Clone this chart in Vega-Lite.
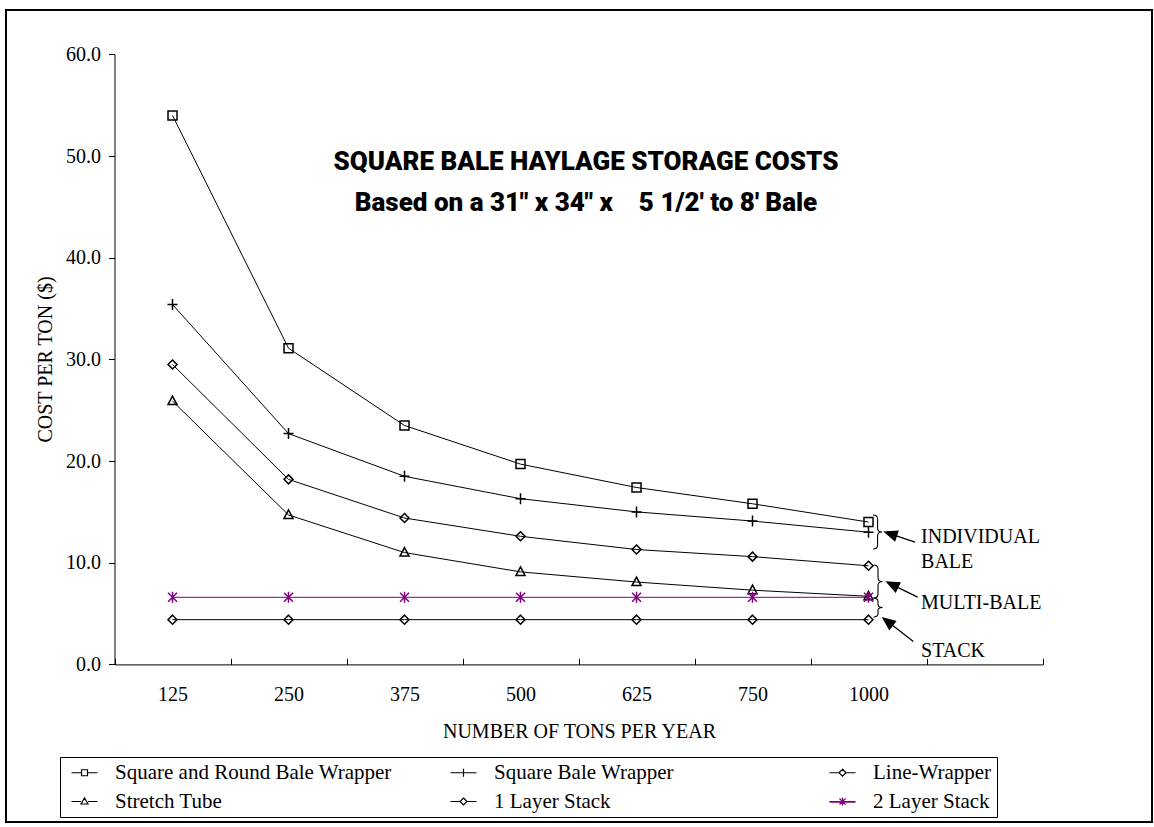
{
  "$schema": "https://vega.github.io/schema/vega-lite/v6.json",
  "width": 1146,
  "height": 812,
  "autosize": "none",
  "padding": {"left": 6, "top": 10, "right": 2, "bottom": 5},
  "background": "white",
  "config": {
    "view": {"stroke": "black", "strokeWidth": 2},
    "font": "Liberation Serif"
  },
  "title": {
    "text": ["SQUARE BALE HAYLAGE STORAGE COSTS", "Based on a 31\" x 34\" x\u00a0\u00a0\u00a0 5 1/2' to 8' Bale"],
    "font": "Roboto",
    "fontSize": 26,
    "fontWeight": 900,
    "color": "black",
    "anchor": "middle",
    "frame": "group",
    "orient": "top",
    "baseline": "top",
    "offset": 0,
    "dy": 206,
    "dx": 7,
    "lineHeight": 41
  },
  "datasets": {
    "costs": [
      {"series": "Square and Round Bale Wrapper", "tons": "125", "cost": 54.0},
      {"series": "Square and Round Bale Wrapper", "tons": "250", "cost": 31.1},
      {"series": "Square and Round Bale Wrapper", "tons": "375", "cost": 23.5},
      {"series": "Square and Round Bale Wrapper", "tons": "500", "cost": 19.7},
      {"series": "Square and Round Bale Wrapper", "tons": "625", "cost": 17.4},
      {"series": "Square and Round Bale Wrapper", "tons": "750", "cost": 15.8},
      {"series": "Square and Round Bale Wrapper", "tons": "1000", "cost": 14.0},
      {"series": "Square Bale Wrapper", "tons": "125", "cost": 35.4},
      {"series": "Square Bale Wrapper", "tons": "250", "cost": 22.7},
      {"series": "Square Bale Wrapper", "tons": "375", "cost": 18.5},
      {"series": "Square Bale Wrapper", "tons": "500", "cost": 16.3},
      {"series": "Square Bale Wrapper", "tons": "625", "cost": 15.0},
      {"series": "Square Bale Wrapper", "tons": "750", "cost": 14.1},
      {"series": "Square Bale Wrapper", "tons": "1000", "cost": 13.0},
      {"series": "Line-Wrapper", "tons": "125", "cost": 29.5},
      {"series": "Line-Wrapper", "tons": "250", "cost": 18.2},
      {"series": "Line-Wrapper", "tons": "375", "cost": 14.4},
      {"series": "Line-Wrapper", "tons": "500", "cost": 12.6},
      {"series": "Line-Wrapper", "tons": "625", "cost": 11.3},
      {"series": "Line-Wrapper", "tons": "750", "cost": 10.6},
      {"series": "Line-Wrapper", "tons": "1000", "cost": 9.7},
      {"series": "Stretch Tube", "tons": "125", "cost": 25.9},
      {"series": "Stretch Tube", "tons": "250", "cost": 14.7},
      {"series": "Stretch Tube", "tons": "375", "cost": 11.0},
      {"series": "Stretch Tube", "tons": "500", "cost": 9.1},
      {"series": "Stretch Tube", "tons": "625", "cost": 8.1},
      {"series": "Stretch Tube", "tons": "750", "cost": 7.3},
      {"series": "Stretch Tube", "tons": "1000", "cost": 6.7},
      {"series": "1 Layer Stack", "tons": "125", "cost": 4.4},
      {"series": "1 Layer Stack", "tons": "250", "cost": 4.4},
      {"series": "1 Layer Stack", "tons": "375", "cost": 4.4},
      {"series": "1 Layer Stack", "tons": "500", "cost": 4.4},
      {"series": "1 Layer Stack", "tons": "625", "cost": 4.4},
      {"series": "1 Layer Stack", "tons": "750", "cost": 4.4},
      {"series": "1 Layer Stack", "tons": "1000", "cost": 4.4},
      {"series": "2 Layer Stack", "tons": "125", "cost": 6.6},
      {"series": "2 Layer Stack", "tons": "250", "cost": 6.6},
      {"series": "2 Layer Stack", "tons": "375", "cost": 6.6},
      {"series": "2 Layer Stack", "tons": "500", "cost": 6.6},
      {"series": "2 Layer Stack", "tons": "625", "cost": 6.6},
      {"series": "2 Layer Stack", "tons": "750", "cost": 6.6},
      {"series": "2 Layer Stack", "tons": "1000", "cost": 6.6}
    ],
    "labels": [
      {"label": "INDIVIDUAL", "ax": 6.953, "ay": 11.94},
      {"label": "BALE", "ax": 6.953, "ay": 9.48},
      {"label": "MULTI-BALE", "ax": 6.953, "ay": 5.45},
      {"label": "STACK", "ax": 6.953, "ay": 0.73}
    ],
    "braces": [
      {"group": "INDIVIDUAL BALE", "ax": 6.578, "ay": 13.02},
      {"group": "MULTI-BALE", "ax": 6.582, "ay": 8.15},
      {"group": "STACK", "ax": 6.582, "ay": 5.59}
    ],
    "arrows": [
      {"group": "INDIVIDUAL BALE", "ax": 6.642, "ay": 13.02},
      {"group": "MULTI-BALE", "ax": 6.659, "ay": 8.10},
      {"group": "STACK", "ax": 6.625, "ay": 4.56}
    ]
  },
  "resolve": {
    "scale": {"x": "independent", "y": "independent", "color": "independent", "shape": "independent", "strokeWidth": "independent"}
  },
  "layer": [
    {
      "data": {"name": "costs"},
      "mark": {"type": "line", "strokeJoin": "miter"},
      "encoding": {
        "x": {
          "field": "tons", "type": "ordinal",
          "scale": {"type": "band", "domain": ["125", "250", "375", "500", "625", "750", "1000", ""], "range": [108.5, 1036.5], "paddingInner": 0, "paddingOuter": 0},
          "axis": {
            "title": "NUMBER OF TONS PER YEAR",
            "orient": "bottom",
            "offset": -157.6,
            "tickBand": "extent",
            "tickSize": -6,
            "labelPadding": 26,
            "labelAngle": 0,
            "labelFont": "Liberation Serif",
            "labelFontSize": 20,
            "labelColor": "black",
            "domainColor": "black",
            "tickColor": "black",
            "grid": false,
            "titleFont": "Liberation Serif",
            "titleFontSize": 20,
            "titleFontWeight": "normal",
            "titleColor": "black",
            "titleX": 573,
            "titleY": 66.6,
            "titleBaseline": "middle",
            "titleAlign": "center"
          }
        },
        "y": {
          "field": "cost", "type": "quantitative",
          "scale": {"domain": [0, 60], "range": [654.4, 44.4], "zero": false, "nice": false},
          "axis": {
            "title": "COST PER TON ($)",
            "orient": "left",
            "offset": -108.5,
            "values": [0, 10, 20, 30, 40, 50, 60],
            "format": ".1f",
            "tickSize": 6,
            "labelPadding": 8,
            "labelFont": "Liberation Serif",
            "labelFontSize": 20,
            "labelColor": "black",
            "domainColor": "black",
            "tickColor": "black",
            "grid": false,
            "titleFont": "Liberation Serif",
            "titleFontSize": 20,
            "titleFontWeight": "normal",
            "titleColor": "black",
            "titleX": -69.5,
            "titleY": 349,
            "titleAngle": -90,
            "titleBaseline": "middle",
            "titleAlign": "center"
          }
        },
        "color": {
          "field": "series", "type": "nominal",
          "scale": {"domain": ["Square and Round Bale Wrapper", "Square Bale Wrapper", "Line-Wrapper", "Stretch Tube", "1 Layer Stack", "2 Layer Stack"], "range": ["black", "black", "black", "black", "black", "#800080"]},
          "legend": null
        },
        "strokeWidth": {
          "field": "series", "type": "nominal",
          "scale": {"domain": ["Square and Round Bale Wrapper", "Square Bale Wrapper", "Line-Wrapper", "Stretch Tube", "1 Layer Stack", "2 Layer Stack"], "range": [1, 1, 1, 1, 1.6, 2.4]},
          "legend": null
        }
      }
    },
    {
      "data": {"name": "costs"},
      "mark": {"type": "point", "filled": false, "size": 4, "strokeWidth": 1.5, "opacity": 1},
      "encoding": {
        "x": {
          "field": "tons", "type": "ordinal",
          "scale": {"type": "band", "domain": ["125", "250", "375", "500", "625", "750", "1000", ""], "range": [108.5, 1036.5], "paddingInner": 0, "paddingOuter": 0},
          "axis": null
        },
        "y": {
          "field": "cost", "type": "quantitative",
          "scale": {"domain": [0, 60], "range": [654.4, 44.4], "zero": false, "nice": false},
          "axis": null
        },
        "color": {
          "field": "series", "type": "nominal",
          "scale": {"domain": ["Square and Round Bale Wrapper", "Square Bale Wrapper", "Line-Wrapper", "Stretch Tube", "1 Layer Stack", "2 Layer Stack"], "range": ["black", "black", "black", "black", "black", "#800080"]},
          "legend": null
        },
        "shape": {
          "field": "series", "type": "nominal",
          "scale": {"domain": ["Square and Round Bale Wrapper", "Square Bale Wrapper", "Line-Wrapper", "Stretch Tube", "1 Layer Stack", "2 Layer Stack"],
            "range": ["M-4.5,-4.5H4.5V4.5H-4.5Z", "M-5,0H5M0,-5.5V5.5", "M0,-4.5L4.5,0L0,4.5L-4.5,0Z", "M0,-5L4.5,3.5H-4.5Z", "M0,-4.5L4.5,0L0,4.5L-4.5,0Z", "M0,-5.5V5.5M-4.5,-4.5L4.5,4.5M-4.5,4.5L4.5,-4.5"]},
          "legend": null
        }
      }
    },
    {
      "data": {"name": "costs"},
      "transform": [{"filter": "false"}],
      "mark": {"type": "point", "filled": false, "size": 4, "strokeWidth": 1.2, "opacity": 1},
      "encoding": {
        "x": {
          "field": "tons", "type": "ordinal",
          "scale": {"type": "band", "domain": ["125", "250", "375", "500", "625", "750", "1000", ""], "range": [108.5, 1036.5]},
          "axis": null
        },
        "y": {
          "field": "cost", "type": "quantitative",
          "scale": {"domain": [0, 60], "range": [654.4, 44.4], "zero": false, "nice": false},
          "axis": null
        },
        "color": {
          "field": "series", "type": "nominal",
          "scale": {"domain": ["Square and Round Bale Wrapper", "Square Bale Wrapper", "Line-Wrapper", "Stretch Tube", "1 Layer Stack", "2 Layer Stack"], "range": ["black", "black", "black", "black", "black", "#800080"]}
        },
        "shape": {
          "field": "series", "type": "nominal",
          "scale": {"domain": ["Square and Round Bale Wrapper", "Square Bale Wrapper", "Line-Wrapper", "Stretch Tube", "1 Layer Stack", "2 Layer Stack"],
            "range": ["M-13,0H-3M3,0H13M-3,-3H3V3H-3Z", "M-13,0H13M0,-4V4", "M-13,0H-3.5M3.5,0H13M0,-3.5L3.5,0L0,3.5L-3.5,0Z", "M-13,0H-3.5M3.5,0H13M0,-3.5L3.5,2.5H-3.5Z", "M-13,0H-3.5M3.5,0H13M0,-3.5L3.5,0L0,3.5L-3.5,0Z", "M-13,0H13M-13,0.6H13M0,-4V4M-3,-3L3,3M-3,3L3,-3"]},
          "legend": {
            "title": null,
            "orient": "none",
            "legendX": 54,
            "legendY": 747,
            "direction": "horizontal",
            "columns": 3,
            "gridAlign": "all",
            "columnPadding": 52,
            "rowPadding": 7,
            "padding": 5,
            "strokeColor": "black",
            "fillColor": "white",
            "symbolSize": 4,
            "symbolStrokeWidth": 1.2,
            "symbolFillColor": "transparent",
            "symbolOffset": 9,
            "labelOffset": 20,
            "labelFont": "Liberation Serif",
            "labelFontSize": 21,
            "labelColor": "black",
            "labelLimit": 400
          }
        }
      }
    },
    {
      "data": {"name": "braces"},
      "mark": {"type": "point", "filled": false, "size": 4, "strokeWidth": 1.1, "color": "black", "opacity": 1},
      "encoding": {
        "x": {"field": "ax", "type": "quantitative", "scale": {"domain": [0, 8], "range": [108.5, 1036.5], "zero": false, "nice": false}, "axis": null},
        "y": {"field": "ay", "type": "quantitative", "scale": {"domain": [0, 60], "range": [654.4, 44.4], "zero": false, "nice": false}, "axis": null},
        "shape": {
          "field": "group", "type": "nominal",
          "scale": {"domain": ["INDIVIDUAL BALE", "MULTI-BALE", "STACK"],
            "range": ["M-4.5,-17Q0,-17 0,-13L0,-4Q0,0 4.5,0Q0,0 0,4L0,13Q0,17 -4.5,17", "M-4.5,-16.5Q0,-16.5 0,-12.5L0,-4Q0,0 4.5,0Q0,0 0,4L0,12.5Q0,16.5 -4.5,16.5", "M-4.5,-9.5Q0,-9.5 0,-6L0,-3Q0,0 4.5,0Q0,0 0,3L0,6Q0,9.5 -4.5,9.5"]},
          "legend": null
        }
      }
    },
    {
      "data": {"name": "arrows"},
      "mark": {"type": "point", "filled": true, "size": 4, "strokeWidth": 1.3, "color": "black", "stroke": "black", "opacity": 1},
      "encoding": {
        "x": {"field": "ax", "type": "quantitative", "scale": {"domain": [0, 8], "range": [108.5, 1036.5], "zero": false, "nice": false}, "axis": null},
        "y": {"field": "ay", "type": "quantitative", "scale": {"domain": [0, 60], "range": [654.4, 44.4], "zero": false, "nice": false}, "axis": null},
        "shape": {
          "field": "group", "type": "nominal",
          "scale": {"domain": ["INDIVIDUAL BALE", "MULTI-BALE", "STACK"],
            "range": ["M0,0L9.8,8.5L13,-0.9ZM11.4,3.8L30,10", "M0,0L8.6,9.8L13,0.8ZM10.8,5.3L30.7,15", "M0,0L6.4,11.3L12.5,3.3ZM9.5,7.3L30.3,23.4"]},
          "legend": null
        }
      }
    },
    {
      "data": {"name": "labels"},
      "mark": {"type": "text", "align": "left", "baseline": "alphabetic", "font": "Liberation Serif", "fontSize": 20, "color": "black"},
      "encoding": {
        "x": {"field": "ax", "type": "quantitative", "scale": {"domain": [0, 8], "range": [108.5, 1036.5], "zero": false, "nice": false}, "axis": null},
        "y": {"field": "ay", "type": "quantitative", "scale": {"domain": [0, 60], "range": [654.4, 44.4], "zero": false, "nice": false}, "axis": null},
        "text": {"field": "label", "type": "nominal"}
      }
    }
  ]
}
